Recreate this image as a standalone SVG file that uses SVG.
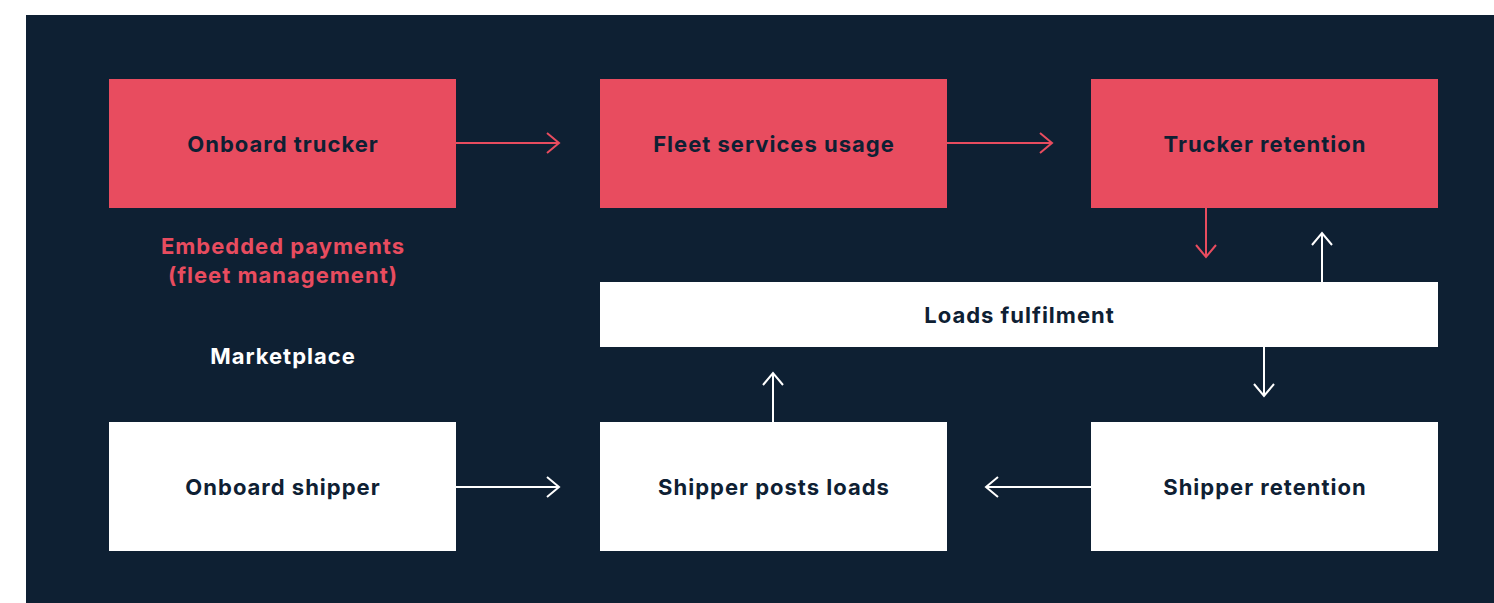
<svg xmlns="http://www.w3.org/2000/svg" width="1494" height="603" viewBox="0 0 1494 603">
<style>
.t{font-family:Inter,"Noto Sans","Liberation Sans",sans-serif;font-weight:700;font-size:22px;letter-spacing:1px;text-anchor:middle;dominant-baseline:central}
.red{fill:#e84c5f}
.wh{fill:#ffffff}
.dk{fill:#0e2033}
.cr{stroke:#e84c5f;stroke-width:2;fill:none}
.cw{stroke:#ffffff;stroke-width:2;fill:none}
</style>
<rect x="0" y="0" width="1494" height="603" fill="#ffffff"/>
<rect x="26" y="15" width="1468" height="588" fill="#0e2033"/>
<g id="onboard-trucker"><rect class="red" x="109" y="79" width="347" height="129"/><text class="t dk" x="283" y="144">Onboard trucker</text></g>
<g id="fleet-services"><rect class="red" x="600" y="79" width="347" height="129"/><text class="t dk" x="774" y="144">Fleet services usage</text></g>
<g id="trucker-retention"><rect class="red" x="1091" y="79" width="347" height="129"/><text class="t dk" x="1265" y="144">Trucker retention</text></g>
<g id="loads-fulfilment"><rect class="wh" x="600" y="282" width="838" height="65"/><text class="t dk" x="1019.5" y="315">Loads fulfilment</text></g>
<g id="onboard-shipper"><rect class="wh" x="109" y="422" width="347" height="129"/><text class="t dk" x="283" y="487">Onboard shipper</text></g>
<g id="shipper-posts"><rect class="wh" x="600" y="422" width="347" height="129"/><text class="t dk" x="774" y="487">Shipper posts loads</text></g>
<g id="shipper-retention"><rect class="wh" x="1091" y="422" width="347" height="129"/><text class="t dk" x="1265" y="487">Shipper retention</text></g>
<g id="labels">
<text class="t red" x="283" y="246">Embedded payments</text>
<text class="t red" x="283" y="275">(fleet management)</text>
<text class="t wh" x="283" y="356">Marketplace</text>
</g>
<g id="connectors">
<path class="cr" d="M456 143H559M547 133L559 143L547 153"/>
<path class="cr" d="M947 143H1052M1040 133L1052 143L1040 153"/>
<path class="cr" d="M1206 208V257M1196 245L1206 257L1216 245"/>
<path class="cw" d="M1322 282V233M1312 245L1322 233L1332 245"/>
<path class="cw" d="M1264 347V396M1254 384L1264 396L1274 384"/>
<path class="cw" d="M773 422V373M763 385L773 373L783 385"/>
<path class="cw" d="M1091 487H986M998 477L986 487L998 497"/>
<path class="cw" d="M456 487H559M547 477L559 487L547 497"/>
</g>
</svg>
